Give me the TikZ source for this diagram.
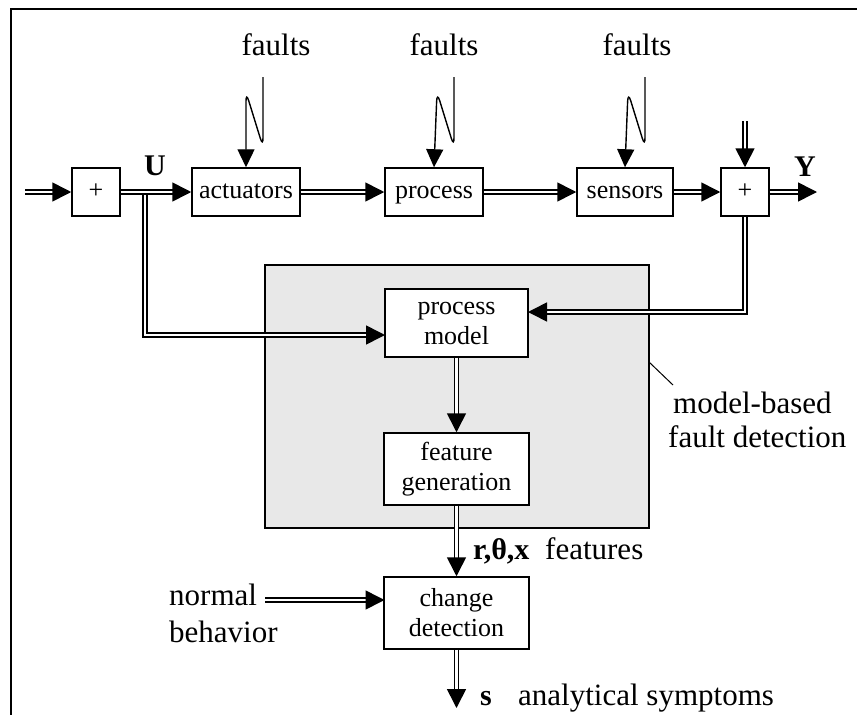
\documentclass[tikz,border=0pt]{standalone}
\usepackage{fontspec}
\setmainfont{Liberation Serif}
\usetikzlibrary{arrows.meta}
\begin{document}
\begin{tikzpicture}[x=1pt,y=-1pt,
  blk/.style={draw, line width=1.5pt, fill=white, inner sep=0pt, align=center,
              font=\fontsize{26}{30}\selectfont},
  oneline/.style={blk, text height=18pt, text depth=6pt},
  panel/.style={draw, line width=1.5pt, fill=black!9, inner sep=0pt,
              minimum width=384pt, minimum height=263pt},
  lbl/.style={inner sep=0pt, font=\fontsize{31}{35}\selectfont},
  sym/.style={inner sep=0pt, font=\fontsize{30}{34}\selectfont\bfseries},
  dplain/.style={double, double distance=2.4pt, line width=1.6pt},
  dline/.style={dplain, -{Triangle[length=19pt,width=19pt]}},
  fault/.style={line width=1.4pt, rounded corners=9pt, -{Triangle[length=18pt,width=17pt]}},
  frame/.style={line width=2pt}]
\useasboundingbox (0,0) rectangle (857,715);

% partial outer frame
\coordinate (ftl) at (11,9);
\coordinate (ftr) at (857,9);
\coordinate (fbl) at (11,715);
\draw[frame] (ftr) -- (ftl) -- (fbl);

% detection panel
\node[panel] (mbfd) at (457,396.5) {};

% main signal chain
\node[oneline, minimum width=48pt, minimum height=48pt] (sum1) at (96,192) {+};
\node[oneline, minimum width=108pt, minimum height=48pt] (act) at (246,192) {actuators};
\node[oneline, minimum width=98pt, minimum height=48pt] (proc) at (434,192) {process};
\node[oneline, minimum width=96pt, minimum height=48pt] (sens) at (625,192) {sensors};
\node[oneline, minimum width=48pt, minimum height=48pt] (sum2) at (745,192) {+};

% detection blocks
\node[blk, minimum width=143pt, minimum height=68pt] (pm) at (456.5,323) {process\\model};
\node[blk, minimum width=145pt, minimum height=72pt] (fg) at (456.5,469) {feature\\generation};
\node[blk, minimum width=145pt, minimum height=72pt] (cd) at (456.5,613) {change\\detection};

% free ends of connectors
\coordinate (uin) at (25,192);
\coordinate (yout) at (817,192);
\coordinate (nin) at (745,121);
\coordinate (ubr) at (145,195);
\coordinate (pmu) at (385,335);
\coordinate (pmy) at (528,312);
\coordinate (nbs) at (265,600);
\coordinate (cdn) at (384.5,600);
\coordinate (sout) at (456.5,708);
\coordinate (fa1) at (263,77);
\coordinate (fa2) at (454,77);
\coordinate (fa3) at (645,77);
\coordinate (lead) at (649,362);
\coordinate (leadend) at (673,385);

% signal flow
\draw[dline] (uin) -- (sum1.west);
\draw[dline] (sum1.east) -- (act.west);
\draw[dline] (act.east) -- (proc.west);
\draw[dline] (proc.east) -- (sens.west);
\draw[dline] (sens.east) -- (sum2.west);
\draw[dline] (sum2.east) -- (yout);
\draw[dline] (nin) -- (sum2.north);
\draw[dline] (ubr) |- (pmu);
\draw[dline] (sum2.south) |- (pmy);
\draw[dline] (pm.south) -- (fg.north);
\draw[dline] (fg.south) -- (cd.north);
\draw[dline] (nbs) -- (cdn);
\draw[dline] (cd.south) -- (sout);

% fault inputs
\draw[fault] (fa1) -- ++(0,70) -- ++(-17,-55) -- (act.north);
\draw[fault] (fa2) -- ++(0,70) -- ++(-17,-55) -- (proc.north);
\draw[fault] (fa3) -- ++(0,70) -- ++(-17,-55) -- (sens.north);

% labels
\node[lbl, anchor=base] (fl1) at (276,55) {faults};
\node[lbl, anchor=base] (fl2) at (444,55) {faults};
\node[lbl, anchor=base] (fl3) at (637,55) {faults};
\node[sym, anchor=base] (ul) at (155,175) {U};
\node[sym, anchor=base] (yl) at (805,176) {Y};
\node[sym, anchor=base west] (rl) at (473,559) {r,θ,x};
\node[lbl, anchor=base west] (featl) at (545,559) {features};
\node[lbl, anchor=base west, align=left, font=\fontsize{31}{37}\selectfont] (nbl) at (169,642) {normal\\behavior};
\node[sym, anchor=base west] (sl) at (480,705) {s};
\node[lbl, anchor=base west] (asl) at (518,705) {analytical symptoms};
\node[lbl, anchor=base west, align=left, font=\fontsize{31}{34}\selectfont] (mbl) at (668,447) {\hspace{5pt}model-based\\fault detection};
\draw[line width=1pt] (lead) -- (leadend);
\end{tikzpicture}
\end{document}
